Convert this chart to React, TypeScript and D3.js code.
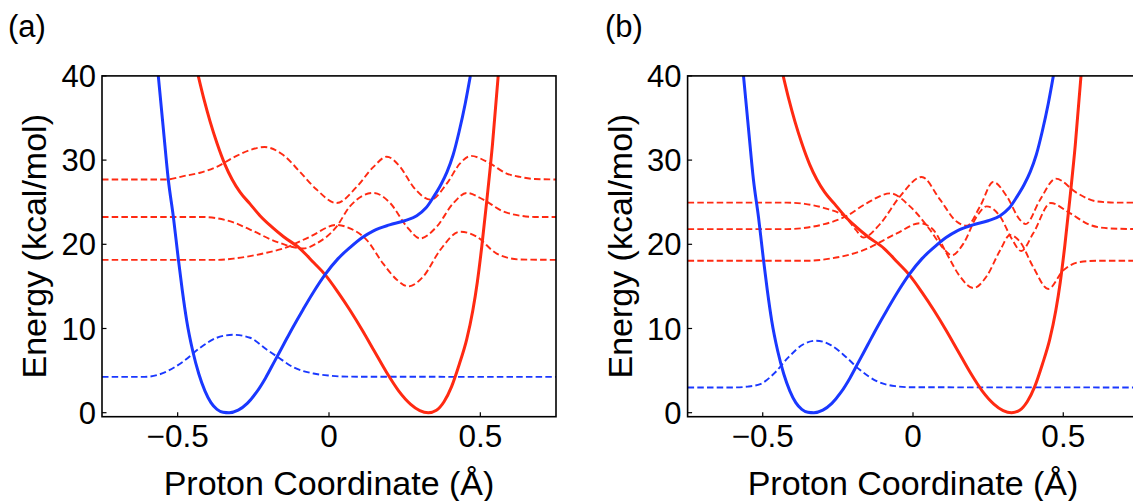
import React from "react";
import * as d3 from "d3";

// ---------- data ----------
const xTicks = [-0.5, 0, 0.5];
const xTickLabels = ["\u22120.5", "0", "0.5"];
const yTicks = [0, 10, 20, 30, 40];
const yTickLabels = ["0", "10", "20", "30", "40"];
const panelLabels = ["(a)", "(b)"];
const xTitle = "Proton Coordinate (\u00C5)";
const yTitle = "Energy (kcal/mol)";

// diabatic potentials (same in both panels)
const bluePotential: [number, number][] = [
  [-0.564, 40], [-0.547, 33.6], [-0.531, 27.7], [-0.514, 23.2], [-0.498, 18.3],
  [-0.485, 14.6], [-0.47, 10.9], [-0.45, 7.3], [-0.43, 4.6], [-0.41, 2.6],
  [-0.39, 1.2], [-0.37, 0.4], [-0.35, 0.06], [-0.33, 0], [-0.3, 0.3],
  [-0.27, 1.1], [-0.24, 2.4], [-0.21, 4.1], [-0.18, 6.1], [-0.15, 8.1],
  [-0.12, 10.1], [-0.085, 12.3], [-0.05, 14.4], [-0.013, 16.4], [0.03, 18.3],
  [0.069, 19.6], [0.11, 20.8], [0.147, 21.6], [0.2, 22.3], [0.25, 22.8],
  [0.29, 23.4], [0.32, 24.3], [0.345, 25.6], [0.37, 27.1], [0.39, 28.6],
  [0.41, 30.6], [0.43, 33.4], [0.45, 36.7], [0.467, 40],
];
const redPotential: [number, number][] = [
  [-0.432, 40], [-0.413, 37.2], [-0.393, 34.6], [-0.37, 32.0], [-0.344, 29.5],
  [-0.32, 27.7], [-0.294, 26.2], [-0.261, 24.8], [-0.228, 23.4], [-0.19, 22.1],
  [-0.15, 20.9], [-0.096, 19.5], [-0.05, 17.8], [-0.013, 16.4], [0.03, 14.3],
  [0.069, 12.2], [0.11, 9.8], [0.15, 7.3], [0.19, 4.8], [0.23, 2.6],
  [0.27, 1.0], [0.3, 0.25], [0.328, 0], [0.355, 0.3], [0.38, 1.3],
  [0.405, 3.1], [0.43, 5.7], [0.455, 8.7], [0.475, 12.1], [0.49, 15.5],
  [0.505, 19.8], [0.522, 25.4], [0.54, 31.8], [0.559, 40],
];

// panel (a) vibrational states
const blueStateA: [number, number][] = [
  [-0.75, 4.25], [-0.62, 4.25], [-0.591, 4.3], [-0.536, 4.9], [-0.481, 6.1],
  [-0.426, 7.7], [-0.371, 8.9], [-0.316, 9.25], [-0.261, 8.9], [-0.206, 7.5],
  [-0.173, 6.7], [-0.118, 5.4], [-0.051, 4.65], [0.003, 4.4], [0.06, 4.28],
  [0.75, 4.25],
];
const redState3A: [number, number][] = [
  [-0.75, 27.7], [-0.536, 27.7], [-0.481, 28.1], [-0.426, 28.5], [-0.371, 29.2],
  [-0.316, 30.3], [-0.261, 31.2], [-0.213, 31.55], [-0.151, 30.6], [-0.096, 28.6],
  [-0.041, 26.5], [0.025, 24.9], [0.091, 26.8], [0.147, 29.2], [0.191, 30.4],
  [0.235, 29.2], [0.279, 26.8], [0.336, 25.3], [0.389, 27.2], [0.433, 29.6],
  [0.468, 30.5], [0.532, 29.6], [0.587, 28.4], [0.631, 28.0], [0.68, 27.75],
  [0.75, 27.7],
];
const redState2A: [number, number][] = [
  [-0.75, 23.25], [-0.426, 23.25], [-0.371, 23.1], [-0.316, 22.6], [-0.261, 21.75],
  [-0.173, 20.3], [-0.085, 19.5], [-0.041, 20.1], [0.025, 22.1], [0.069, 24.5],
  [0.147, 26.1], [0.202, 24.9], [0.257, 22.1], [0.301, 20.7], [0.356, 22.1],
  [0.411, 24.9], [0.455, 26.1], [0.51, 25.3], [0.576, 23.9], [0.631, 23.4],
  [0.68, 23.25], [0.75, 23.25],
];
const redState1A: [number, number][] = [
  [-0.75, 18.15], [-0.371, 18.15], [-0.316, 18.3], [-0.261, 18.6], [-0.206, 19.0],
  [-0.151, 19.5], [-0.063, 20.9], [0.025, 22.3], [0.069, 21.9], [0.125, 20.5],
  [0.179, 17.7], [0.224, 15.8], [0.262, 15.0], [0.312, 16.2], [0.367, 19.3],
  [0.433, 21.5], [0.488, 20.9], [0.554, 18.9], [0.631, 18.2], [0.75, 18.15],
];

// panel (b) vibrational states
const blueStateB: [number, number][] = [
  [-0.75, 3.0], [-0.6, 3.0], [-0.55, 3.1], [-0.508, 3.4], [-0.461, 4.7],
  [-0.414, 6.6], [-0.366, 8.1], [-0.322, 8.55], [-0.272, 8.0], [-0.224, 6.65],
  [-0.177, 5.1], [-0.118, 3.7], [-0.059, 3.15], [0.0, 3.02], [0.75, 3.0],
];
const redState3B: [number, number][] = [
  [-0.75, 24.95], [-0.42, 24.95], [-0.36, 24.8], [-0.295, 24.3], [-0.224, 23.2],
  [-0.19, 21.7], [-0.165, 20.8], [-0.11, 22.4], [-0.043, 25.7], [0.029, 28.0],
  [0.09, 25.3], [0.145, 22.7], [0.179, 22.2], [0.223, 24.5], [0.267, 27.4],
  [0.312, 25.7], [0.356, 22.9], [0.375, 22.4], [0.423, 25.3], [0.475, 27.8],
  [0.545, 26.1], [0.611, 25.1], [0.68, 24.95], [0.75, 24.95],
];
const redState2B: [number, number][] = [
  [-0.75, 21.8], [-0.42, 21.8], [-0.35, 22.0], [-0.295, 22.4], [-0.224, 23.3],
  [-0.153, 24.9], [-0.075, 26.05], [-0.01, 24.5], [0.057, 21.7], [0.101, 19.5],
  [0.129, 18.7], [0.168, 20.1], [0.212, 23.3], [0.245, 24.5], [0.29, 23.3],
  [0.328, 20.7], [0.36, 19.2], [0.4, 21.3], [0.458, 24.9], [0.522, 23.7],
  [0.589, 22.3], [0.65, 21.9], [0.75, 21.8],
];
const redState1B: [number, number][] = [
  [-0.75, 18.05], [-0.35, 18.05], [-0.276, 18.3], [-0.165, 19.3], [-0.054, 21.3],
  [0.023, 22.5], [0.068, 21.7], [0.112, 18.9], [0.156, 16.2], [0.201, 14.8],
  [0.245, 16.2], [0.29, 19.3], [0.323, 21.1], [0.356, 20.3], [0.4, 17.3],
  [0.45, 14.7], [0.5, 16.9], [0.556, 17.9], [0.62, 18.05], [0.75, 18.05],
];

// ---------- styling ----------
const BLUE = "#1a38ff";
const RED = "#ff2a12";
const FONT = "'Liberation Sans', Arial, Helvetica, sans-serif";

type PanelProps = {
  id: string;
  label: string;
  labelX: number;
  left: number;
  right: number;
  blueState: [number, number][];
  redStates: [number, number][][];
};

const TOP = 75.9;
const BOTTOM = 416.7;

function Panel({ id, label, labelX, left, right, blueState, redStates }: PanelProps) {
  const x = d3.scaleLinear().domain([-0.75, 0.75]).range([left, right]);
  const y = d3.scaleLinear().domain([0, 40]).range([412.7, TOP]);
  const line = d3
    .line<[number, number]>()
    .x((d) => x(d[0]))
    .y((d) => y(d[1]))
    .curve(d3.curveMonotoneX);
  const clipId = `clip-${id}`;
  return (
    <g>
      <defs>
        <clipPath id={clipId}>
          <rect x={left} y={TOP} width={right - left} height={BOTTOM - TOP} />
        </clipPath>
      </defs>
      <text x={labelX} y={37} fontSize={31} fontFamily={FONT}>
        {label}
      </text>
      <g clipPath={`url(#${clipId})`} fill="none">
        {redStates.map((s, i) => (
          <path key={i} d={line(s) || ""} stroke={RED} strokeWidth={1.9} strokeDasharray="6.5,3.2" />
        ))}
        <path d={line(blueState) || ""} stroke={BLUE} strokeWidth={1.9} strokeDasharray="6.5,3.2" />
        <path d={line(redPotential) || ""} stroke={RED} strokeWidth={3} />
        <path d={line(bluePotential) || ""} stroke={BLUE} strokeWidth={3} />
      </g>
      {/* frame */}
      <rect x={left} y={TOP} width={right - left} height={BOTTOM - TOP} fill="none" stroke="#000" strokeWidth={1.6} />
      {/* x ticks */}
      {xTicks.map((t, i) => (
        <g key={`xt${i}`}>
          <line x1={x(t)} x2={x(t)} y1={BOTTOM} y2={BOTTOM - 4.5} stroke="#000" strokeWidth={1.2} />
          <text x={x(t)} y={446.5} fontSize={31.5} fontFamily={FONT} textAnchor="middle">
            {xTickLabels[i]}
          </text>
        </g>
      ))}
      {/* y ticks */}
      {yTicks.map((t, i) => (
        <g key={`yt${i}`}>
          <line x1={left} x2={left + 4.5} y1={y(t)} y2={y(t)} stroke="#000" strokeWidth={1.2} />
          <text x={left - 6} y={y(t)} dy="0.36em" fontSize={31} fontFamily={FONT} textAnchor="end">
            {yTickLabels[i]}
          </text>
        </g>
      ))}
      <text x={x(0)} y={495} fontSize={34} fontFamily={FONT} textAnchor="middle">
        {xTitle}
      </text>
      <text
        transform={`translate(${left - 56},${(TOP + BOTTOM) / 2}) rotate(-90)`}
        fontSize={34}
        fontFamily={FONT}
        textAnchor="middle"
      >
        {yTitle}
      </text>
    </g>
  );
}

export default function App() {
  return (
    <svg
      width={1133}
      height={501}
      viewBox="0 0 1133 501"
      style={{ position: "absolute", left: 0, top: 0, background: "#fff" }}
    >
      <rect x={0} y={0} width={1133} height={501} fill="#fff" />
      <Panel
        id="a"
        label={panelLabels[0]}
        labelX={8}
        left={102}
        right={556}
        blueState={blueStateA}
        redStates={[redState1A, redState2A, redState3A]}
      />
      <Panel
        id="b"
        label={panelLabels[1]}
        labelX={605}
        left={687.6}
        right={1138.4}
        blueState={blueStateB}
        redStates={[redState1B, redState2B, redState3B]}
      />
    </svg>
  );
}
